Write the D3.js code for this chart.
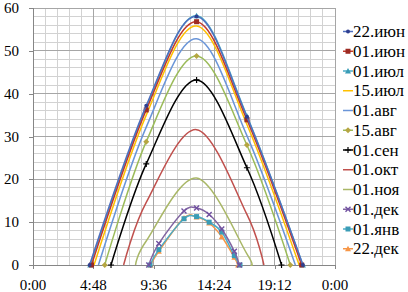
<!DOCTYPE html>
<html>
<head>
<meta charset="utf-8">
<script src="https://cdn.jsdelivr.net/npm/d3@7"></script>
<style>
  body { margin: 0; background: #fff; }
</style>
</head>
<body>
<script>
// time in hours, sun height in degrees
const seriesNames = ["22.июн","01.июн","01.июл","15.июл","01.авг","15.авг","01.сен","01.окт","01.ноя","01.дек","01.янв","22.дек"];
const s22jun = [[4.5,0],[9,37.2],[13,58.0],[17,34.6],[21.45,0]];
const s01jun = [[4.65,0],[9,36.2],[13,56.8],[17,33.9],[21.35,0]];
const s01jul = [[4.55,0],[9,36.7],[13,58.2],[17,34.8],[21.45,0]];
const s15jul = [[4.85,0],[9,35.0],[13,55.8],[17,32.8],[21.15,0]];
const s01aug = [[5.2,0],[9,32.2],[13,52.8],[17,30.2],[20.85,0]];
const s15aug = [[5.7,0],[9,28.8],[13,48.8],[17,28.0],[20.45,0]];
const s01sep = [[6.2,0],[9,23.6],[13,43.2],[17,22.7],[19.75,0]];
const s01oct = [[7.2,0],[9,14.6],[13,31.6],[17,11.8],[18.35,0]];
const s01nov = [[8.15,0],[9,5.6],[13,20.3],[17,2.6],[17.3,0]];
const s01dec = [[9.2,0],[10,5.0],[12,12.6],[13,13.3],[14,11.8],[15,8.4],[16,3.2],[16.4,0]];
const s01jan = [[9.3,0],[10,3.6],[12,10.8],[13,11.3],[14,10.0],[15,7.7],[16,2.2],[16.45,0]];
const s22dec = [[9.35,0],[10,3.2],[12,11.0],[13,11.2],[14,9.8],[15,6.6],[16,1.8],[16.3,0]];
const seriesValues = [s22jun,s01jun,s01jul,s15jul,s01aug,s15aug,s01sep,s01oct,s01nov,s01dec,s01jan,s22dec];

const xTicks = [0,0.2,0.4,0.6,0.8,1];
const xTickLabels = ["0:00","4:48","9:36","14:24","19:12","0:00"];
const yTicks = [0,10,20,30,40,50,60];

const colors = ["#4F6FBF","#C0392B","#4BACC6","#FFC000","#6A95D8","#9BBB59","#000000","#C0504D","#A9B767","#8064A2","#4BACC6","#F79646"];
const markerColors = ["#2F3F8F","#9C2A22","#3A9CB6","#FFC000","#6A95D8","#B5A642","#000000","#C0504D","#A9B767","#7050A0","#3A9CB6","#F79646"];
const markers = ["dot","square","triangle","none","none","diamond","plus","none","none","x","square","triangle"];

const W = 408, H = 292;
const margin = {top: 8, left: 33, right: 73, bottom: 27};
const FONT = '"Liberation Serif"';

const x = d3.scaleLinear().domain([0,1]).range([margin.left, W - margin.right]);
const y = d3.scaleLinear().domain([0,60]).range([H - margin.bottom, margin.top]);

const svg = d3.select("body").append("svg")
  .attr("width", W)
  .attr("height", H);

//grid
const grid = svg.append("g");
grid.selectAll("line.vmin")
  .data(d3.range(0, 26).map(i => i / 25))
  .enter().append("line")
    .attr("x1", d => x(d)).attr("x2", d => x(d))
    .attr("y1", y(0)).attr("y2", y(60))
    .attr("stroke", "#d2d2d2").attr("stroke-width", 1);
grid.selectAll("line.hmin")
  .data(d3.range(0, 31).map(i => i * 2))
  .enter().append("line")
    .attr("x1", x(0)).attr("x2", x(1))
    .attr("y1", d => y(d)).attr("y2", d => y(d))
    .attr("stroke", "#d2d2d2").attr("stroke-width", 1);
grid.selectAll("line.vmaj")
  .data(xTicks)
  .enter().append("line")
    .attr("x1", d => x(d)).attr("x2", d => x(d))
    .attr("y1", y(0)).attr("y2", y(60))
    .attr("stroke", "#a6a6a6").attr("stroke-width", 1);
grid.selectAll("line.hmaj")
  .data(yTicks)
  .enter().append("line")
    .attr("x1", x(0)).attr("x2", x(1))
    .attr("y1", d => y(d)).attr("y2", d => y(d))
    .attr("stroke", "#a6a6a6").attr("stroke-width", 1);
grid.selectAll("line").attr("shape-rendering", "crispEdges");

//axes: lines and ticks from d3, labels drawn as plain svg text
const xAxis = d3.axisBottom(x).tickValues(xTicks).tickFormat("").tickSize(4);
const yAxis = d3.axisLeft(y).tickValues(yTicks).tickFormat("").tickSize(4);

const gx = svg.append("g").attr("transform", "translate(0," + y(0) + ")").call(xAxis);
const gy = svg.append("g").attr("transform", "translate(" + x(0) + ",0)").call(yAxis);
[gx, gy].forEach(g => {
  g.attr("font-family", null);
  g.selectAll(".tick text").remove();
  g.select(".domain").attr("stroke", "#868686").attr("shape-rendering", "crispEdges");
  g.selectAll(".tick line").attr("stroke", "#868686").attr("shape-rendering", "crispEdges");
});

xTicks.forEach((t, i) => {
  svg.append("text").attr("x", x(t)).attr("y", y(0) + 25).attr("text-anchor", "middle").attr("fill", "#000")
    .style("font-family", FONT).style("font-size", "15px").text(xTickLabels[i]);
});
yTicks.forEach(v => {
  svg.append("text").attr("x", x(0) - 14).attr("y", y(v) + 5).attr("text-anchor", "end").attr("fill", "#000")
    .style("font-family", FONT).style("font-size", "15px").text(v);
});

//lines
const line = d3.line()
  .x(d => x(d[0] / 24))
  .y(d => y(d[1]))
  .curve(d3.curveCardinal.tension(0));

function drawMarker(g, type, color, cx, cy) {
  if (type === "dot") {
    g.append("circle").attr("cx", cx).attr("cy", cy).attr("r", 2).attr("fill", color);
  } else if (type === "square") {
    g.append("rect").attr("x", cx - 2.5).attr("y", cy - 2.5).attr("width", 5).attr("height", 5).attr("fill", color);
  } else if (type === "triangle") {
    g.append("path").attr("d", `M${cx},${cy - 3}L${cx + 3},${cy + 2.5}L${cx - 3},${cy + 2.5}Z`).attr("fill", color);
  } else if (type === "diamond") {
    g.append("path").attr("d", `M${cx},${cy - 3}L${cx + 3},${cy}L${cx},${cy + 3}L${cx - 3},${cy}Z`).attr("fill", color);
  } else if (type === "plus") {
    g.append("path").attr("d", `M${cx - 3},${cy}H${cx + 3}M${cx},${cy - 3}V${cy + 3}`).attr("stroke", color).attr("stroke-width", 1.2);
  } else if (type === "x") {
    g.append("path").attr("d", `M${cx - 2.5},${cy - 2.5}L${cx + 2.5},${cy + 2.5}M${cx - 2.5},${cy + 2.5}L${cx + 2.5},${cy - 2.5}`).attr("stroke", color).attr("stroke-width", 1.4);
  }
}

// draw in reverse so the summer curves sit on top
const plot = svg.append("g");
for (let i = seriesValues.length - 1; i >= 0; i--) {
  const g = plot.append("g");
  g.append("path")
    .datum(seriesValues[i])
    .attr("fill", "none")
    .attr("stroke", colors[i])
    .attr("stroke-width", 1.5)
    .attr("d", line);
  seriesValues[i].forEach(d => drawMarker(g, markers[i], markerColors[i], x(d[0] / 24), y(d[1])));
}

//legend
const legend = svg.append("g");
seriesNames.forEach((name, i) => {
  const ly = 31.5 + i * 19.75;
  legend.append("line").attr("x1", 343).attr("x2", 353).attr("y1", ly).attr("y2", ly)
    .attr("stroke", colors[i]).attr("stroke-width", 1.5);
  drawMarker(legend, markers[i], markerColors[i], 348, ly);
  svg.append("text").attr("x", 353).attr("y", ly + 5.5).attr("fill", "#000")
    .style("font-family", FONT).style("font-size", "17px").text(name);
});
</script>
</body>
</html>
